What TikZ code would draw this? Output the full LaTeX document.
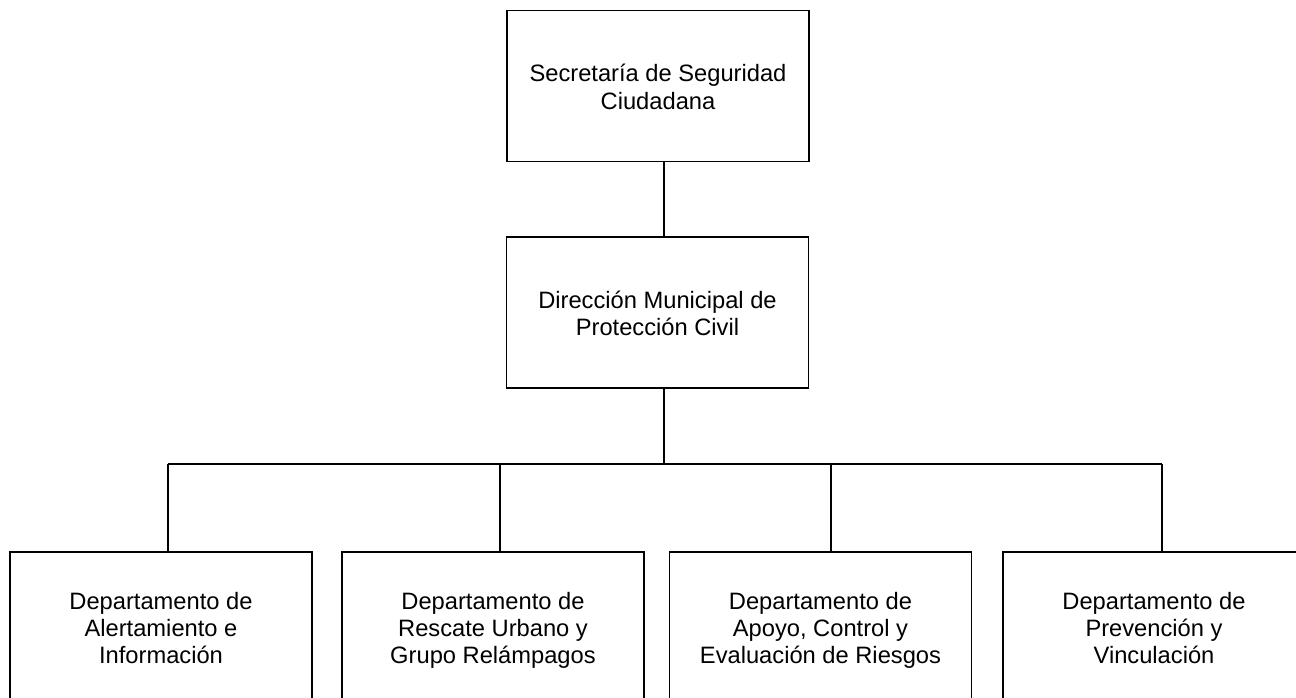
\documentclass[tikz,border=0pt]{standalone}
\usepackage{fontspec}
\setmainfont{Liberation Sans}
\begin{document}
\begin{tikzpicture}[x=1pt,y=-1pt,
  unit/.style={draw=black, line width=1.7pt, rectangle, inner sep=0pt,
    minimum width=302pt, minimum height=151pt},
  caption/.style={inner sep=0pt, align=center,
    font=\fontsize{23.7}{27.3}\selectfont},
  link/.style={draw=black, line width=1.7pt}]
  \clip (0,0) rectangle (1296,698);

  % upper levels
  \node[unit] (sec) at (658,86) {};
  \node[caption] (sec-t) at ([yshift=-3.9pt]sec.center)
    {\strut Secretaría de Seguridad\\Ciudadana\strut};
  \node[unit] (dir) at (657.5,312.5) {};
  \node[caption] (dir-t) at ([yshift=-3.9pt]dir.center)
    {\strut Dirección Municipal de\\Protección Civil\strut};

  % departments
  \node[unit] (d1) at (161,627.5) {};
  \node[unit] (d2) at (493,627.5) {};
  \node[unit] (d3) at (820.5,627.5) {};
  \node[unit] (d4) at (1154,627.5) {};
  \node[caption] (d1-t) at ([yshift=-3.6pt]d1.center)
    {\strut Departamento de\\Alertamiento e\\Información\strut};
  \node[caption] (d2-t) at ([yshift=-3.6pt]d2.center)
    {\strut Departamento de\\Rescate Urbano y\\Grupo Relámpagos\strut};
  \node[caption] (d3-t) at ([yshift=-3.6pt]d3.center)
    {\strut Departamento de\\Apoyo, Control y\\Evaluación de Riesgos\strut};
  \node[caption] (d4-t) at ([yshift=-3.6pt]d4.center)
    {\strut Departamento de\\Prevención y\\Vinculación\strut};

  % distribution bus
  \coordinate (j)  at (664,464);
  \coordinate (b1) at (168,464);
  \coordinate (b2) at (500,464);
  \coordinate (b3) at (831,464);
  \coordinate (b4) at (1162,464);

  \draw[link] (sec.south -| j) -- (dir.north -| j);
  \draw[link] (dir.south -| j) -- (j);
  \draw[link] (b1) -- (b4);
  \draw[link] (b1) -- (d1.north -| b1);
  \draw[link] (b2) -- (d2.north -| b2);
  \draw[link] (b3) -- (d3.north -| b3);
  \draw[link] (b4) -- (d4.north -| b4);
\end{tikzpicture}
\end{document}
